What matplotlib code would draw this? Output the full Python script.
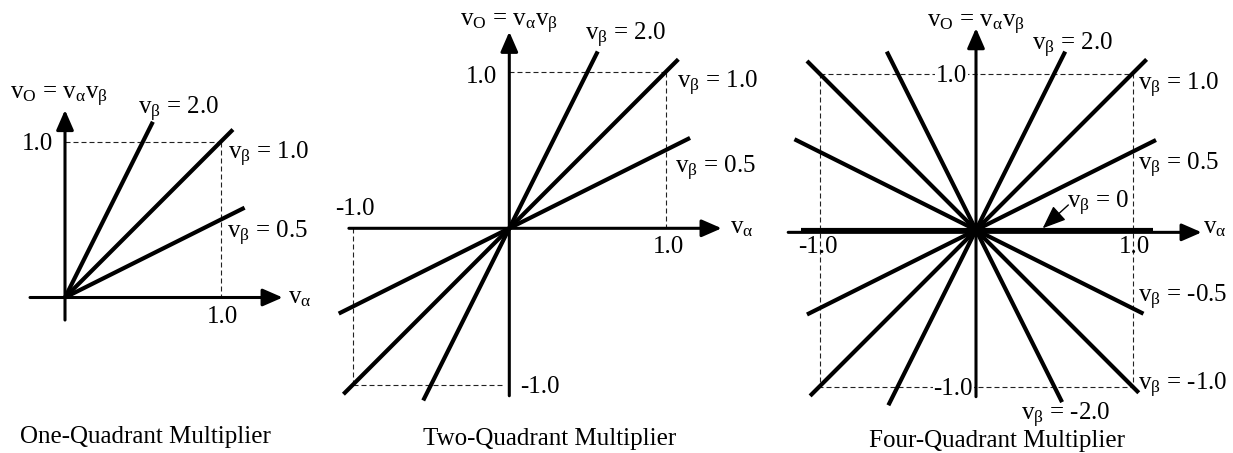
import matplotlib
matplotlib.use("Agg")
import matplotlib.pyplot as plt
import numpy as np

plt.rcParams['font.family'] = ['Liberation Serif', 'DejaVu Serif']
plt.rcParams['mathtext.fontset'] = 'custom'
plt.rcParams['mathtext.rm'] = 'Liberation Serif'
plt.rcParams['mathtext.it'] = 'Liberation Serif:italic'
plt.rcParams['mathtext.bf'] = 'Liberation Serif:bold'

# ---------------- data ----------------
one_slopes = [2.0, 1.0, 0.5]
one_x_start = [0.0, 0.0, 0.0]
one_x_end = [0.565, 1.08, 1.155]

two_slopes = [2.0, 1.0, 0.5]
two_x_start = [-0.55, -1.06, -1.09]
two_x_end = [0.565, 1.08, 1.155]

four_slopes = [2.0, 1.0, 0.5, 0.0, -0.5, -1.0, -2.0]
four_x_start = [-0.56, -1.06, -1.08, -1.12, -1.16, -1.08, -0.57]
four_x_end = [0.57, 1.09, 1.15, 1.13, 1.07, 1.04, 0.55]

titles = ["One-Quadrant Multiplier", "Two-Quadrant Multiplier", "Four-Quadrant Multiplier"]
yaxis_label = r'$\mathrm{v_O}$ = $\mathrm{v_{α}v_{β}}$'
xaxis_label = r'$\mathrm{v_{α}}$'
def vb(s):
    return r'$\mathrm{v_{β}}$ = ' + s

# ---------------- figure ----------------
W, H = 1233, 453
fig = plt.figure(figsize=(W / 100, H / 100), dpi=100)

FS = 18
TFS = 18
LW = 3.0
AXLW = 2.2


def make_ax(ox, oy, s):
    ax = fig.add_axes([0, 0, 1, 1])
    ax.set_xlim(-ox / s, (W - ox) / s)
    ax.set_ylim(-(H - oy) / s, oy / s)
    ax.axis('off')
    ax.patch.set_alpha(0)
    return ax


def axis_arrow(ax, start, tip):
    ax.annotate('', xy=tip, xytext=start,
                arrowprops=dict(arrowstyle='-|>,head_length=0.55,head_width=0.24',
                                lw=AXLW, color='k', shrinkA=0, shrinkB=0,
                                mutation_scale=22),
                annotation_clip=False, zorder=4)


def dashed(ax, xs, ys):
    ax.plot(xs, ys, color='#222222', lw=0.8, ls=(0, (4.5, 2.7)), zorder=1)


def rays(ax, slopes, x0s, x1s):
    for m, a, b in zip(slopes, x0s, x1s):
        xs = np.array([a, b])
        ax.plot(xs, m * xs, color='k', lw=LW, solid_capstyle='butt', zorder=3)


def txt(ax, x, y, s, ha='left', **kw):
    ax.text(x, y, s, fontsize=FS, ha=ha, va='baseline', zorder=5, **kw)


# ---- Panel 1 ----
ax1 = make_ax(65, 297.5, 155.5)
dashed(ax1, [0, 1], [1, 1])
dashed(ax1, [1, 1], [1, 0])
rays(ax1, one_slopes, one_x_start, one_x_end)
axis_arrow(ax1, (-0.225, 0), (1.40, 0))
axis_arrow(ax1, (0, -0.145), (0, 1.206))
txt(ax1, -0.354, 1.277, yaxis_label)
txt(ax1, 0.47, 1.18, vb('2.0'))
txt(ax1, 1.05, 0.89, vb('1.0'))
txt(ax1, 1.04, 0.383, vb('0.5'))
txt(ax1, -0.077, 0.948, '1.0', ha='right')
txt(ax1, 1.01, -0.162, '1.0', ha='center')
txt(ax1, 1.434, -0.035, xaxis_label)

# ---- Panel 2 ----
ax2 = make_ax(509.3, 228.3, 156.5)
dashed(ax2, [0, 1], [1, 1])
dashed(ax2, [1, 1], [1, 0])
dashed(ax2, [-1, -1], [0, -1])
dashed(ax2, [-1, -0.03], [-1, -1])
rays(ax2, two_slopes, two_x_start, two_x_end)
axis_arrow(ax2, (-1.025, 0), (1.357, 0))
axis_arrow(ax2, (0, -1.07), (0, 1.256))
txt(ax2, -0.315, 1.288, yaxis_label)
txt(ax2, 0.483, 1.203, vb('2.0'))
txt(ax2, -0.079, 0.928, '1.0', ha='right')
txt(ax2, 1.07, 0.896, vb('1.0'))
txt(ax2, 1.059, 0.353, vb('0.5'))
txt(ax2, -0.989, 0.085, '-1.0', ha='center')
txt(ax2, 1.014, -0.158, '1.0', ha='center')
txt(ax2, 1.41, -0.03, xaxis_label)
txt(ax2, 0.068, -1.052, '-1.0')

# ---- Panel 3 ----
ax3 = make_ax(976, 230, 156.5)
dashed(ax3, [-1, 1, 1, -1, -1], [1, 1, -1, -1, 1])
rays(ax3, four_slopes, four_x_start, four_x_end)
axis_arrow(ax3, (-1.2, -0.015), (1.442, -0.015))
axis_arrow(ax3, (0, -1.065), (0, 1.29))
box = dict(facecolor='white', edgecolor='none', pad=0.5)
txt(ax3, -0.315, 1.297, yaxis_label)
txt(ax3, 0.356, 1.15, vb('2.0'))
txt(ax3, -0.059, 0.948, '1.0', ha='right', bbox=box)
txt(ax3, 1.037, 0.895, vb('1.0'))
txt(ax3, 1.037, 0.383, vb('0.5'))
txt(ax3, 0.58, 0.14, vb('0'))
ax3.annotate('', xy=(0.426, 0.011), xytext=(0.59, 0.16),
             arrowprops=dict(arrowstyle='-|>,head_length=0.8,head_width=0.32',
                             lw=1.0, color='k', shrinkA=0, shrinkB=0,
                             mutation_scale=18),
             annotation_clip=False, zorder=5)
txt(ax3, 1.45, -0.02, xaxis_label)
txt(ax3, -1.01, -0.147, '-1.0', ha='center')
txt(ax3, 1.01, -0.147, '1.0', ha='center')
txt(ax3, 1.037, -0.46, vb('-0.5'))
txt(ax3, -0.019, -1.054, '-1.0', ha='right', bbox=box)
txt(ax3, 1.037, -1.022, vb('-1.0'))
txt(ax3, 0.288, -1.214, vb('-2.0'))

# ---- Titles ----
title_cx = [145, 549.5, 997]
title_base = [443, 445, 447]
for t, cx, by in zip(titles, title_cx, title_base):
    fig.text(cx / W, 1 - by / H, t, fontsize=TFS, ha='center', va='baseline')

fig.savefig('out.png', dpi=100, facecolor='white')
